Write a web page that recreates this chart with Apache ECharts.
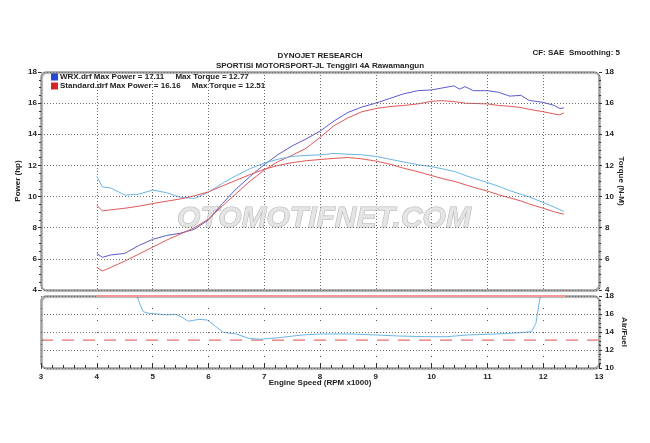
<!DOCTYPE html>
<html><head><meta charset="utf-8">
<script src="https://cdn.jsdelivr.net/npm/echarts@6/dist/echarts.min.js"></script>
<style>html,body{margin:0;padding:0;background:#fff}#c{width:650px;height:443px}</style>
</head><body><div id="c"></div>
<script>
// ---- data ----
const rpm = [4.0,4.1,4.25,4.5,4.75,5.0,5.25,5.5,5.75,6.0,6.25,6.5,6.75,7.0,7.25,7.5,7.75,8.0,8.25,8.5,8.75,9.0,9.25,9.5,9.75,10.0,10.2,10.4,10.5,10.6,10.75,11.0,11.2,11.4,11.6,11.75,12.0,12.2,12.3,12.37];
const wrxPower = [6.35,6.1,6.25,6.35,6.85,7.25,7.5,7.65,7.9,8.5,9.55,10.5,11.3,12.05,12.7,13.25,13.7,14.2,14.85,15.4,15.75,16.0,16.3,16.6,16.8,16.85,16.98,17.11,16.9,17.06,16.8,16.8,16.7,16.45,16.5,16.17,16.05,15.85,15.65,15.7];
const stdPower = [5.45,5.22,5.45,5.85,6.3,6.75,7.2,7.6,8.0,8.55,9.4,10.2,11.0,11.7,12.25,12.65,13.1,13.8,14.55,15.05,15.45,15.65,15.78,15.85,15.95,16.12,16.16,16.1,16.05,16.0,15.98,15.95,15.85,15.8,15.72,15.6,15.45,15.3,15.25,15.38];
const wrxTorque = [11.3,10.62,10.55,10.1,10.15,10.42,10.25,9.95,9.88,10.28,10.85,11.35,11.8,12.15,12.4,12.58,12.64,12.68,12.77,12.72,12.68,12.58,12.4,12.22,12.05,11.92,11.78,11.62,11.5,11.36,11.18,10.9,10.66,10.38,10.15,9.98,9.62,9.32,9.16,9.04];
const stdTorque = [9.45,9.08,9.15,9.25,9.38,9.55,9.7,9.85,10.05,10.3,10.68,11.05,11.42,11.75,12.0,12.18,12.3,12.38,12.45,12.51,12.42,12.28,12.08,11.82,11.6,11.35,11.15,10.98,10.88,10.76,10.6,10.35,10.12,9.92,9.72,9.52,9.25,9.02,8.92,8.87];
const afrRpm = [4.72,4.78,4.83,4.94,5.1,5.24,5.42,5.53,5.64,5.83,5.98,6.13,6.27,6.5,6.72,6.94,7.31,7.68,8.0,8.57,9.0,9.39,9.9,10.27,10.64,11.16,11.6,11.79,11.87,11.92,11.95];
const afr = [18,17.0,16.26,16.07,16.0,15.9,15.96,15.63,15.2,15.4,15.33,14.6,13.96,13.78,13.3,13.19,13.4,13.67,13.78,13.78,13.67,13.56,13.48,13.48,13.67,13.78,13.93,14.04,14.96,17.0,18];
const afrTopRpm = [4.0, 12.4];
const afrTop = [18, 18];
const afrTargetRpm = [3, 13];
const afrTarget = [13.1, 13.1];
const legendNames = ['WRX.drf', 'Standard.drf'];
const legendText = {
  'WRX.drf': 'WRX.drf Max Power = 17.11     Max Torque = 12.77',
  'Standard.drf': 'Standard.drf Max Power = 16.16     Max Torque = 12.51'
};
const titleLine1 = 'DYNOJET RESEARCH';
const titleLine2 = 'SPORTISI MOTORSPORT-JL Tenggiri 4A Rawamangun';
const cornerText = 'CF: SAE  Smoothing: 5';
const watermark = 'OTOMOTIFNET.COM';

// ---- chart ----
const F = 'Liberation Sans';
const lbl = {fontFamily: F, fontSize: 8, fontWeight: 'bold', color: '#222'};
const pair = (xs, ys) => xs.map((x, i) => [x, ys[i]]);
const C_WRX_P = '#5a5ad0', C_WRX_T = '#6cb4e6', C_STD = '#e05858', C_AFR_TOP = '#f29a9a';
const G1 = {left: 41, top: 72, width: 558, height: 218};
const G2 = {left: 41, top: 296, width: 558, height: 72};
const dotted = {color: '#6a6a6a', type: [1, 2], width: 1};
const tick = {show: true, length: 3, lineStyle: {color: '#333'}};
const minor = (n) => ({show: true, splitNumber: n, length: 2, lineStyle: {color: '#333'}});

const chart = echarts.init(document.getElementById('c'), null, {renderer: 'canvas'});
const line = (name, data, color, xi, yi, extra) => Object.assign({
  type: 'line', name, data, xAxisIndex: xi, yAxisIndex: yi, showSymbol: false, symbol: 'none',
  lineStyle: {color, width: 1}, itemStyle: {color}, z: 3, silent: true
}, extra || {});

chart.setOption({
  animation: false,
  backgroundColor: '#fff',
  grid: [Object.assign({}, G1), Object.assign({}, G2)],
  legend: {
    data: [{name: legendNames[0], itemStyle: {color: '#2448d8'}}, {name: legendNames[1], itemStyle: {color: '#d42626'}}],
    orient: 'vertical', left: 51, top: 73, itemGap: 1, itemWidth: 7, itemHeight: 7,
    icon: 'rect', padding: 0,
    textStyle: Object.assign({}, lbl, {padding: [0, 0, 0, -3]}),
    formatter: n => legendText[n], selectedMode: false
  },
  xAxis: [
    {gridIndex: 0, type: 'value', min: 3, max: 13, interval: 1,
     axisLabel: {show: false}, axisTick: {show: false}, axisLine: {show: false},
     splitLine: {show: true, lineStyle: dotted}},
    {gridIndex: 1, type: 'value', min: 3, max: 13, interval: 1, z: 25,
     axisLabel: Object.assign({}, lbl, {margin: 5}),
     axisTick: {show: true, inside: true, length: 5, lineStyle: {color: '#333'}},
     minorTick: {show: true, splitNumber: 5, length: 3, lineStyle: {color: '#333'}},
     axisLine: {show: false},
     splitLine: {show: true, lineStyle: {color: '#555', type: [1, 11], width: 1}},
     name: 'Engine Speed (RPM x1000)', nameLocation: 'middle', nameGap: 11, nameMoveOverlap: false,
     nameTextStyle: Object.assign({}, lbl)}
  ],
  yAxis: [
    {gridIndex: 0, type: 'value', min: 4, max: 18, interval: 2, position: 'left', z: 25,
     axisLabel: Object.assign({}, lbl, {margin: 4}),
     axisTick: tick, minorTick: minor(4),
     axisLine: {show: false},
     splitLine: {show: true, lineStyle: dotted},
     name: 'Power (hp)', nameLocation: 'middle', nameGap: 19, nameMoveOverlap: false,
     nameTextStyle: Object.assign({}, lbl)},
    {gridIndex: 0, type: 'value', min: 4, max: 18, interval: 2, position: 'right', z: 25,
     axisLabel: Object.assign({}, lbl, {margin: 6}),
     axisTick: tick, minorTick: minor(4),
     axisLine: {show: false}, splitLine: {show: false},
     name: 'Torque (N-M)', nameLocation: 'middle', nameGap: 18, nameRotate: -90, nameMoveOverlap: false,
     nameTextStyle: Object.assign({}, lbl)},
    {gridIndex: 1, type: 'value', min: 10, max: 18, interval: 2, position: 'right', z: 25,
     axisLabel: Object.assign({}, lbl, {margin: 6}),
     axisTick: tick, minorTick: minor(4),
     axisLine: {show: false},
     splitLine: {show: true, lineStyle: dotted},
     name: 'Air/Fuel', nameLocation: 'middle', nameGap: 21, nameRotate: -90, nameMoveOverlap: false,
     nameTextStyle: Object.assign({}, lbl)}
  ],
  series: [
    line('WRX.drf', pair(rpm, wrxPower), C_WRX_P, 0, 0),
    line('Standard.drf', pair(rpm, stdPower), C_STD, 0, 0),
    line('WRX.drf', pair(rpm, wrxTorque), C_WRX_T, 0, 1),
    line('Standard.drf', pair(rpm, stdTorque), C_STD, 0, 1),
    line('AFR target', pair(afrTargetRpm, afrTarget), '#e04848', 1, 2,
         {lineStyle: {color: '#e04848', width: 1, type: [12, 9]}}),
    line('AFR top', pair(afrTopRpm, afrTop), C_AFR_TOP, 1, 2, {z: 30, lineStyle: {color: C_AFR_TOP, width: 2}}),
    line('AFR', pair(afrRpm, afr), C_WRX_T, 1, 2)
  ],
  graphic: [
    {type: 'text', z: 1, silent: true, style: {text: watermark, x: 324, y: 219, align: 'center', verticalAlign: 'middle',
      font: 'italic bold 30px "Liberation Sans"', fill: 'rgba(226,226,226,0.9)', stroke: 'rgba(130,130,130,0.6)', lineWidth: 1,
      shadowColor: 'rgba(0,0,0,0.3)', shadowBlur: 3, shadowOffsetX: 1.5, shadowOffsetY: 1.5}},
    {type: 'rect', z: 20, silent: true, shape: {x: G1.left, y: G1.top, width: G1.width, height: G1.height, r: 5},
      style: {fill: 'none', stroke: '#9a9a9a', lineWidth: 1.5, shadowColor: 'rgba(0,0,0,0.4)', shadowBlur: 1, shadowOffsetX: 1, shadowOffsetY: 1}},
    {type: 'rect', z: 20, silent: true, shape: {x: G2.left, y: G2.top, width: G2.width, height: G2.height, r: 5},
      style: {fill: 'none', stroke: '#9a9a9a', lineWidth: 1.5, shadowColor: 'rgba(0,0,0,0.4)', shadowBlur: 1, shadowOffsetX: 1, shadowOffsetY: 1}},
    {type: 'text', silent: true, style: {text: titleLine1, x: 320, y: 56, align: 'center', verticalAlign: 'middle',
      font: 'bold 8px "Liberation Sans"', fill: '#222'}},
    {type: 'text', silent: true, style: {text: titleLine2, x: 320, y: 66, align: 'center', verticalAlign: 'middle',
      font: 'bold 8px "Liberation Sans"', fill: '#222'}},
    {type: 'text', silent: true, style: {text: cornerText, x: 620, y: 53, align: 'right', verticalAlign: 'middle',
      font: 'bold 8px "Liberation Sans"', fill: '#222'}}
  ]
});
</script></body></html>
